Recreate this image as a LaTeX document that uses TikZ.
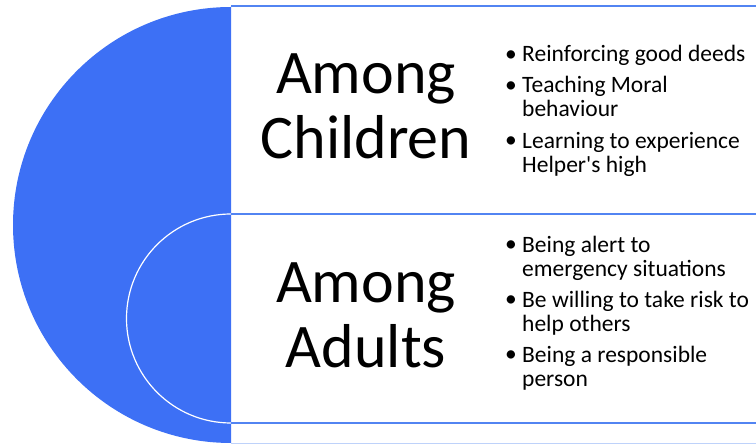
\documentclass[tikz,border=0pt]{standalone}
\usepackage{fontspec}
\setmainfont{Carlito}
\newfontfamily\boxfont{Carlito}
\definecolor{diskblue}{RGB}{61,112,245}
\definecolor{rimblue}{RGB}{82,132,242}
\definecolor{paleblue}{RGB}{190,210,250}
\tikzset{
  heading/.style={font=\boxfont\fontsize{62}{65}\selectfont, align=center, inner sep=0pt},
  itemtext/.style={font=\boxfont\fontsize{23.5}{24.5}\selectfont, align=left, anchor=base west, inner sep=0pt},
  itemmark/.style={font=\boxfont\fontsize{23.5}{24.5}\selectfont, anchor=base west, inner sep=0pt},
  rim/.style={rimblue, line width=1.3pt}
}

\begin{document}
\begin{tikzpicture}[x=1pt,y=1pt]
  \useasboundingbox (0,0) rectangle (756,444);
  % half disc and inner arc
  \fill[diskblue] (231,437) arc[start angle=90, end angle=270, radius=218] -- cycle;
  \draw[white, line width=1.2pt] (231,230) arc[start angle=90, end angle=270, radius=104.5];
  % the two boxes
  \draw[rim] (231,438) -- (760,438);
  \draw[rim] (231,230) -- (760,230);
  \draw[rim] (231,21) -- (760,21);
  \draw[paleblue, line width=0.8pt] (231,1) -- (760,1);

  \node[heading] (kids) at (366,337.5) {Among\\Children};
  \node[heading] (adults) at (366,128.5) {Among\\Adults};

  % points for children (base = last line)
  \node[itemmark] (k1m) at (505,382) {\textbullet};
  \node[itemtext] (k1) at (522,382) {Reinforcing good deeds};
  \node[itemmark] (k2m) at (505,351) {\textbullet};
  \node[itemtext] (k2) at (522,327) {Teaching Moral\\behaviour};
  \node[itemmark] (k3m) at (505,296) {\textbullet};
  \node[itemtext] (k3) at (522,271) {Learning to experience\\Helper's high};

  % points for adults
  \node[itemmark] (a1m) at (505,192) {\textbullet};
  \node[itemtext] (a1) at (522,167) {Being alert to\\emergency situations};
  \node[itemmark] (a2m) at (505,137) {\textbullet};
  \node[itemtext] (a2) at (522,112) {Be willing to take risk to\\help others};
  \node[itemmark] (a3m) at (505,82) {\textbullet};
  \node[itemtext] (a3) at (522,57) {Being a responsible\\person};
\end{tikzpicture}
\end{document}
